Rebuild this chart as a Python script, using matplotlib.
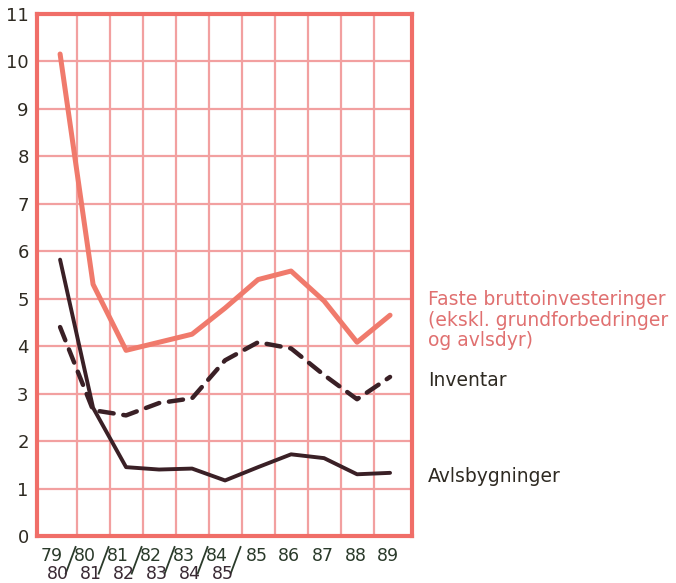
import matplotlib
matplotlib.use("Agg")
import matplotlib.pyplot as plt
import numpy as np

# Periods (crop years 79/80 .. 84/85, then calendar years 85 .. 89)
top_labels = ["79", "80", "81", "82", "83", "84", "85", "86", "87", "88", "89"]
bottom_labels = ["80", "81", "82", "83", "84", "85", "", "", "", "", ""]

faste = [10.15, 5.3, 3.91, 4.08, 4.25, 4.8, 5.4, 5.58, 4.95, 4.08, 4.65]
inventar = [4.4, 2.65, 2.54, 2.8, 2.9, 3.7, 4.08, 3.95, 3.39, 2.88, 3.35]
avlsbygninger = [5.82, 2.7, 1.45, 1.4, 1.42, 1.17, 1.45, 1.72, 1.64, 1.3, 1.33]

series_names = ["Faste bruttoinvesteringer\n(ekskl. grundforbedringer\nog avlsdyr)",
                "Inventar", "Avlsbygninger"]

salmon = "#f07a6c"
grid_c = "#f2a0a0"
spine_c = "#f06e68"
dark = "#3a2026"
text_dark = "#2e2a22"
label_top_c = "#2a3a2a"
label_bot_c = "#3a2a34"

fig = plt.figure(figsize=(6.76, 5.83), dpi=100)
ax = fig.add_axes([0.0547, 0.0806, 0.555, 0.896])

x = np.arange(len(top_labels))
ax.set_xlim(-0.7, 10.67)
ax.set_ylim(0, 11)

ax.set_xticks(x[:-1] + 0.5)
ax.set_yticks(np.arange(0, 12, 1))
ax.grid(True, color=grid_c, linewidth=1.6)
ax.tick_params(axis="x", length=0, labelbottom=False)
ax.tick_params(axis="y", length=0, labelsize=13, labelcolor=text_dark, pad=6)
for s in ax.spines.values():
    s.set_color(spine_c)
    s.set_linewidth(3)

ax.plot(x, faste, color=salmon, lw=3.6, solid_joinstyle="round",
        solid_capstyle="round", zorder=3)
ax.plot(x, inventar, color=dark, lw=3.2, dashes=(3.2, 2.2),
        dash_capstyle="round", zorder=3)
ax.plot(x, avlsbygninger, color=dark, lw=2.8, solid_joinstyle="round",
        solid_capstyle="round", zorder=3)

# Two-line period labels under the axis, split years joined by a slash
trans = ax.get_xaxis_transform()
y_top, y_bot = -0.039, -0.073
for i, (t, b) in enumerate(zip(top_labels, bottom_labels)):
    if b:
        ax.text(i - 0.24, y_top, t, transform=trans, ha="center", va="center",
                fontsize=12.5, color=label_top_c, clip_on=False)
        ax.text(i - 0.08, y_bot, b, transform=trans, ha="center", va="center",
                fontsize=12.5, color=label_bot_c, clip_on=False)
        ax.plot([i + 0.17, i + 0.47], [-0.072, -0.021], transform=trans,
                color=label_top_c, lw=1.3, clip_on=False)
    else:
        ax.text(i - 0.05, y_top, t, transform=trans, ha="center", va="center",
                fontsize=12.5, color=label_top_c, clip_on=False)

# Series labels to the right of the plot
fig.text(428 / 676, 1 - 290 / 583, series_names[0], ha="left", va="top",
         fontsize=13.5, color="#e07070", linespacing=1.1)
fig.text(428 / 676, 1 - 381 / 583, series_names[1], ha="left", va="center",
         fontsize=13.5, color=text_dark)
fig.text(428 / 676, 1 - 477 / 583, series_names[2], ha="left", va="center",
         fontsize=13.5, color=text_dark)

fig.savefig("out.png", dpi=100)
